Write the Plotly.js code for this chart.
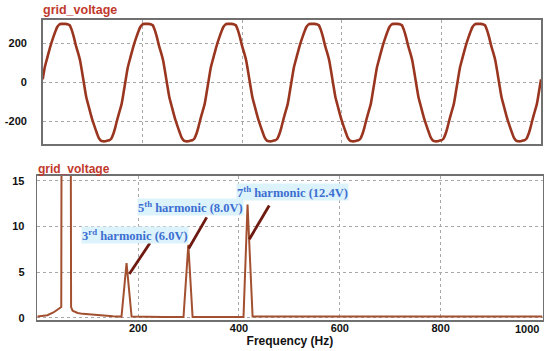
<!DOCTYPE html>
<html>
<head>
<meta charset="utf-8">
<script src="https://cdn.plot.ly/plotly-3.0.1.min.js"></script>
<style>
html,body{margin:0;padding:0;background:#fff;}
#chart{width:550px;height:351px;}
</style>
</head>
<body>
<div id="chart"></div>
<script>
// ---- Top panel: grid voltage waveform (0 .. 0.1 s, 241 samples) ----
const timeStart = 0;
const timeEnd = 0.1;
const gridVoltage = [
  15, 77, 118, 158, 196, 228, 258, 284, 297, 300, 300, 300, 298, 293, 268, 232, 188, 152, 112, 50,
  -15, -77, -118, -158, -196, -228, -258, -286, -300, -303, -303, -300, -298, -290, -266, -230, -188, -150, -112, -50,
  15, 77, 118, 158, 196, 228, 258, 284, 297, 300, 300, 300, 298, 293, 268, 232, 188, 152, 112, 50,
  -15, -77, -118, -158, -196, -228, -258, -286, -300, -303, -303, -300, -298, -290, -266, -230, -188, -150, -112, -50,
  15, 77, 118, 158, 196, 228, 258, 284, 297, 300, 300, 300, 298, 293, 268, 232, 188, 152, 112, 50,
  -15, -77, -118, -158, -196, -228, -258, -286, -300, -303, -303, -300, -298, -290, -266, -230, -188, -150, -112, -50,
  15, 77, 118, 158, 196, 228, 258, 284, 297, 300, 300, 300, 298, 293, 268, 232, 188, 152, 112, 50,
  -15, -77, -118, -158, -196, -228, -258, -286, -300, -303, -303, -300, -298, -290, -266, -230, -188, -150, -112, -50,
  15, 77, 118, 158, 196, 228, 258, 284, 297, 300, 300, 300, 298, 293, 268, 232, 188, 152, 112, 50,
  -15, -77, -118, -158, -196, -228, -258, -286, -300, -303, -303, -300, -298, -290, -266, -230, -188, -150, -112, -50,
  15, 77, 118, 158, 196, 228, 258, 284, 297, 300, 300, 300, 298, 293, 268, 232, 188, 152, 112, 50,
  -15, -77, -118, -158, -196, -228, -258, -286, -300, -303, -303, -300, -298, -290, -266, -230, -188, -150, -112, -50,
  15
];
const timeAxis = gridVoltage.map((_, i) => timeStart + i * (timeEnd - timeStart) / (gridVoltage.length - 1));
const topYTicks = [-200, 0, 200];
const topXGrid = [0.02, 0.04, 0.06, 0.08];

// ---- Bottom panel: spectrum ----
const freqHz = [0, 20, 32, 42, 47.5, 57, 67, 70, 80, 90, 110, 130, 150, 167, 177, 187, 200, 250, 290, 299.5, 308, 350, 380, 409, 417, 427, 450, 500, 600, 700, 800, 900, 1002];
const amplitudeV = [0.15, 0.3, 0.6, 1.0, 1.2, 310, 1.2, 0.8, 0.55, 0.45, 0.35, 0.25, 0.18, 0.15, 6.0, 0.15, 0.13, 0.12, 0.12, 8.0, 0.12, 0.12, 0.12, 0.12, 12.4, 0.15, 0.16, 0.16, 0.16, 0.16, 0.16, 0.16, 0.16];
const bottomYTicks = [0, 5, 10, 15];
const bottomXTicks = [200, 400, 600, 800];
const lastXTick = 1000;

// harmonic callouts
const harmonicLabels = ['3<sup>rd</sup> harmonic (6.0V)', '5<sup>th</sup> harmonic (8.0V)', '7<sup>th</sup> harmonic (12.4V)'];
const labelX = [194, 304, 506];
const labelY = [9.1, 12.1, 13.8];
const arrowTailX = [223.5, 336, 460];
const arrowTailY = [8.2, 11.0, 12.3];
const arrowHeadX = [182.5, 300.3, 420.5];
const arrowHeadY = [4.8, 7.6, 8.6];

const W = 550, H = 351;
const px = v => v / W;
const py = v => 1 - v / H;

const traceColor = '#9a3620';
const specColor = '#a2502f';
const gridColor = '#a8a8a8';
const frameColor = '#707070';
const tickFont = {family: 'Liberation Sans, Arial, sans-serif', size: 11, color: '#111', weight: 'bold'};

const data = [
  {x: timeAxis, y: gridVoltage, type: 'scatter', mode: 'lines', line: {color: traceColor, width: 2.6, shape: 'spline', smoothing: 0.6}, xaxis: 'x', yaxis: 'y', hoverinfo: 'skip'},
  {x: freqHz, y: amplitudeV, type: 'scatter', mode: 'lines', line: {color: specColor, width: 2}, xaxis: 'x2', yaxis: 'y2', hoverinfo: 'skip'}
];

const annotations = [
  {text: 'grid_voltage', xref: 'paper', yref: 'paper', x: px(41), y: py(9.5), xanchor: 'left', yanchor: 'middle', showarrow: false,
   font: {family: 'Liberation Sans, Arial, sans-serif', size: 12.5, color: '#c0392b', weight: 'bold'}},
  {text: 'grid_voltage', xref: 'paper', yref: 'paper', x: px(36), y: py(169), xanchor: 'left', yanchor: 'middle', showarrow: false,
   font: {family: 'Liberation Sans, Arial, sans-serif', size: 12, color: '#c0392b', weight: 'bold'}},
  {text: String(lastXTick), xref: 'x2', yref: 'paper', x: lastXTick, y: py(329), xanchor: 'right', yanchor: 'middle', showarrow: false,
   font: tickFont}
];
const shapes = [];
for (let i = 0; i < harmonicLabels.length; i++) {
  annotations.push({
    text: harmonicLabels[i], xref: 'x2', yref: 'y2', x: labelX[i], y: labelY[i], showarrow: false,
    xanchor: 'center', yanchor: 'middle', bgcolor: '#dcf3fb', borderpad: 0,
    font: {family: 'Liberation Serif, Times New Roman, serif', size: 12.5, color: '#3c6fd1', weight: 'bold'}
  });
  shapes.push({
    type: 'line', xref: 'x2', yref: 'y2', x0: arrowTailX[i], y0: arrowTailY[i], x1: arrowHeadX[i], y1: arrowHeadY[i],
    line: {color: '#6e1a10', width: 2.8}
  });
}

const axisCommon = {showline: true, mirror: true, linecolor: frameColor, linewidth: 1.6, zeroline: false,
  showgrid: true, gridcolor: gridColor, griddash: 'dot', gridwidth: 1, ticks: '', tickfont: tickFont};

const layout = {
  width: W, height: H,
  margin: {l: 0, r: 0, t: 0, b: 0},
  paper_bgcolor: '#fff', plot_bgcolor: '#fff',
  showlegend: false,
  xaxis: Object.assign({}, axisCommon, {domain: [px(42.7), px(541)], range: [timeStart, timeEnd], tickmode: 'array', tickvals: topXGrid, showticklabels: false, anchor: 'y'}),
  yaxis: Object.assign({}, axisCommon, {domain: [py(144), py(20)], range: [-317, 320], tickmode: 'array', tickvals: topYTicks, ticktext: topYTicks.map(String), ticklabelstandoff: 12, anchor: 'x'}),
  xaxis2: Object.assign({}, axisCommon, {domain: [px(37.3), px(542.5)], range: [0, 1002], tickmode: 'array', tickvals: bottomXTicks, ticktext: bottomXTicks.map(String), ticklabelstandoff: -3, anchor: 'y2',
    title: {text: 'Frequency (Hz)', font: {family: 'Liberation Sans, Arial, sans-serif', size: 12, color: '#111', weight: 'bold'}, standoff: 0}}),
  yaxis2: Object.assign({}, axisCommon, {domain: [py(320), py(175.7)], range: [-0.22, 15.55], tickmode: 'array', tickvals: bottomYTicks, ticktext: bottomYTicks.map(String), ticklabelstandoff: 9, anchor: 'x2'}),
  annotations: annotations,
  shapes: shapes
};

Plotly.newPlot('chart', data, layout, {staticPlot: true, displayModeBar: false});
</script>
</body>
</html>
